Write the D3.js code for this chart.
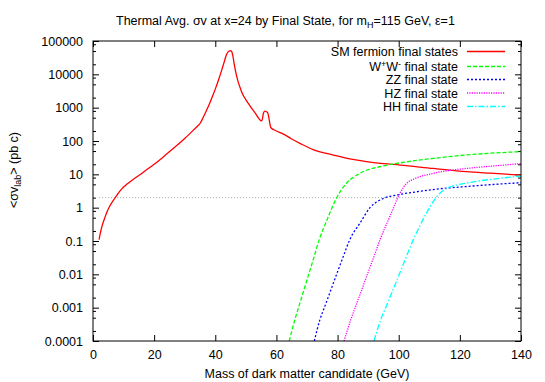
<!DOCTYPE html>
<html><head><meta charset="utf-8">
<script src="https://cdn.jsdelivr.net/npm/d3@7"></script>
<style>
body{margin:0;background:#fff}
svg{display:block}
text{font-family:"Liberation Sans",Arial,Helvetica,sans-serif;font-size:12.5px;fill:#000}
</style>
</head><body>
<svg id="chart" width="545" height="382"></svg>
<script>
// ---- data ----
const massSM = [2,2.5,3,3.5,4.5,5.5,6.3,7.2,8,9,10,11,12,13,15,17,19,20,22,24,27,30,31,32,33,34,35,36,37,38,39,40,41,42,43,43.7,44.5,45.1,45.6,46.2,46.9,48.6,50.8,52.9,55.2,55.8,56.2,57.1,58.2,60,62.3,65,67.7,72,78.6,84,89.5,95,100.4,111.3,122.2,130,140];
const valSM  = [0.11,0.19,0.29,0.40,0.72,1.12,1.48,1.95,2.5,3.3,4.15,5.0,5.9,6.9,9.2,12.6,17.1,20,28,40,68,119,145,178,219,269,335,500,780,1250,2100,3600,6500,12500,25000,40000,50000,51000,42000,20000,9500,3000,1350,720,400,700,790,720,250,200,160,115,85,55,38,29,24,21,19,15,12,10.8,9.5];

const massWW = [64.2,66,68,70,72,74,76.4,79.6,82.9,87.3,94.9,100.4,111.3,122,130,140];
const valWW  = [1e-4,4.3e-4,1.7e-3,6.8e-3,0.027,0.11,0.4,1.9,5.4,10.7,17.8,22,30,38,43,48];

const massZZ = [72.4,74.2,76,78,80,82,84,87.3,90.6,93.9,100.4,105.9,111.3,122,130,140];
const valZZ  = [1e-4,4.3e-4,1.2e-3,3.8e-3,0.012,0.037,0.11,0.34,1.0,1.7,2.5,3.0,3.5,4.3,4.9,5.6];

const massHZ = [82.1,84.3,86,88,90,92,93.9,97.2,100.4,102.6,104.8,111.3,122.2,130,140];
const valHZ  = [1e-4,4.3e-4,1.15e-3,3.6e-3,0.0115,0.036,0.11,0.57,2.7,5.4,7.1,10.7,15,17.5,21];

const massHH = [91.9,94.1,96,98,100,102,104.8,109.1,112.4,115.7,122,133.1,140];
const valHH  = [1e-4,4.3e-4,1.15e-3,3.2e-3,9e-3,0.026,0.11,0.69,2.1,3.8,5.4,7.6,8.9];

const refLevel = 2;           // grey dotted reference line
const refMass = [2,140];

const xTicks = [0,20,40,60,80,100,120,140];
const yTicks = [1e-4,1e-3,1e-2,0.1,1,10,100,1000,1e4,1e5];
const yTickLabels = ["0.0001","0.001","0.01","0.1","1","10","100","1000","10000","100000"];
const yMinorMult = [2,5,8];

const seriesNames = ["SM fermion final states","W+W- final state","ZZ final state","HZ final state","HH final state"];

// ---- layout ----
const svg = d3.select("#chart");
const L = 93, R = 521, T = 41, B = 341;
const x = d3.scaleLinear().domain([0,140]).range([L,R]);
const y = d3.scaleLog().domain([1e-4,1e5]).range([B,T]);

const yMinor = [];
yTicks.slice(0,-1).forEach(d => yMinorMult.forEach(m => yMinor.push(d*m)));

svg.append("defs").append("clipPath").attr("id","clip")
  .append("rect").attr("x",L).attr("y",T).attr("width",R-L).attr("height",B-T);

function styleAxis(g){ g.select(".domain").remove(); g.selectAll("line").attr("stroke","#000"); g.selectAll("text").attr("font-family",null).attr("font-size",null); }

svg.append("g").attr("transform",`translate(${L},0)`)
  .call(d3.axisLeft(y).tickValues(yTicks).tickFormat((d,i)=>yTickLabels[i]).tickSizeInner(-6).tickSizeOuter(0).tickPadding(10))
  .call(styleAxis);
svg.append("g").attr("transform",`translate(${L},0)`)
  .call(d3.axisLeft(y).tickValues(yMinor).tickFormat("").tickSizeInner(-3).tickSizeOuter(0))
  .call(styleAxis);
svg.append("g").attr("transform",`translate(${R},0)`)
  .call(d3.axisRight(y).tickValues(yTicks).tickFormat("").tickSizeInner(-6).tickSizeOuter(0))
  .call(styleAxis);
svg.append("g").attr("transform",`translate(${R},0)`)
  .call(d3.axisRight(y).tickValues(yMinor).tickFormat("").tickSizeInner(-3).tickSizeOuter(0))
  .call(styleAxis);
svg.append("g").attr("transform",`translate(0,${B})`)
  .call(d3.axisBottom(x).tickValues(xTicks).tickFormat(d3.format("d")).tickSizeInner(-6).tickSizeOuter(0).tickPadding(9))
  .call(styleAxis);
svg.append("g").attr("transform",`translate(0,${T})`)
  .call(d3.axisTop(x).tickValues(xTicks).tickFormat("").tickSizeInner(-6).tickSizeOuter(0))
  .call(styleAxis);

svg.append("line")
  .attr("x1",x(refMass[0])).attr("x2",x(refMass[1]))
  .attr("y1",y(refLevel)).attr("y2",y(refLevel))
  .attr("stroke","#aaa").attr("stroke-width",1).attr("stroke-dasharray","1,2");

const series = [
  {m:massSM,v:valSM,color:"#ff0000",dash:null},
  {m:massWW,v:valWW,color:"#00ff00",dash:"4,2"},
  {m:massZZ,v:valZZ,color:"#0000ff",dash:"2,2"},
  {m:massHZ,v:valHZ,color:"#ff00ff",dash:"1.2,1.2"},
  {m:massHH,v:valHH,color:"#00ffff",dash:"6,2,1.5,2"}
];
const line = d3.line().x(d=>x(d[0])).y(d=>y(d[1])).curve(d3.curveMonotoneX);
const plot = svg.append("g").attr("clip-path","url(#clip)");
series.forEach(s=>{
  plot.append("path")
    .datum(s.m.map((m,i)=>[m,s.v[i]]))
    .attr("d",line).attr("fill","none")
    .attr("stroke",s.color).attr("stroke-width",1.3)
    .attr("stroke-dasharray",s.dash);
});

svg.append("rect").attr("x",L).attr("y",T).attr("width",R-L).attr("height",B-T)
  .attr("fill","none").attr("stroke","#000").attr("stroke-width",1);

const legY = [51.5,66.5,79.5,93,106.5];
series.forEach((s,i)=>{
  const t = svg.append("text").attr("x",458).attr("y",legY[i]+4.6).attr("text-anchor","end");
  if(i===1){
    t.append("tspan").text("W");
    t.append("tspan").attr("dy",-4.5).attr("font-size","9px").text("+");
    t.append("tspan").attr("dy",4.5).text("W");
    t.append("tspan").attr("dy",-4.5).attr("font-size","9px").text("-");
    t.append("tspan").attr("dy",4.5).text(" final state");
  } else {
    t.text(seriesNames[i]);
  }
  svg.append("line").attr("x1",467).attr("x2",505).attr("y1",legY[i]).attr("y2",legY[i])
    .attr("stroke",s.color).attr("stroke-width",1.3).attr("stroke-dasharray",s.dash);
});

const title = svg.append("text").attr("x",116).attr("y",25);
title.append("tspan").text("Thermal Avg. σv at x=24 by Final State, for m");
title.append("tspan").attr("dy",3).attr("font-size","9px").text("H");
title.append("tspan").attr("dy",-3).text("=115 GeV, ε=1");

svg.append("text").attr("x",(L+R)/2).attr("y",378).attr("text-anchor","middle")
  .text("Mass of dark matter candidate (GeV)");

const yl = svg.append("text").attr("transform","translate(18,170) rotate(-90)").attr("text-anchor","middle");
yl.append("tspan").text("<σv");
yl.append("tspan").attr("dy",3).attr("font-size","9px").text("lab");
yl.append("tspan").attr("dy",-3).text("> (pb c)");
</script>
</body></html>
